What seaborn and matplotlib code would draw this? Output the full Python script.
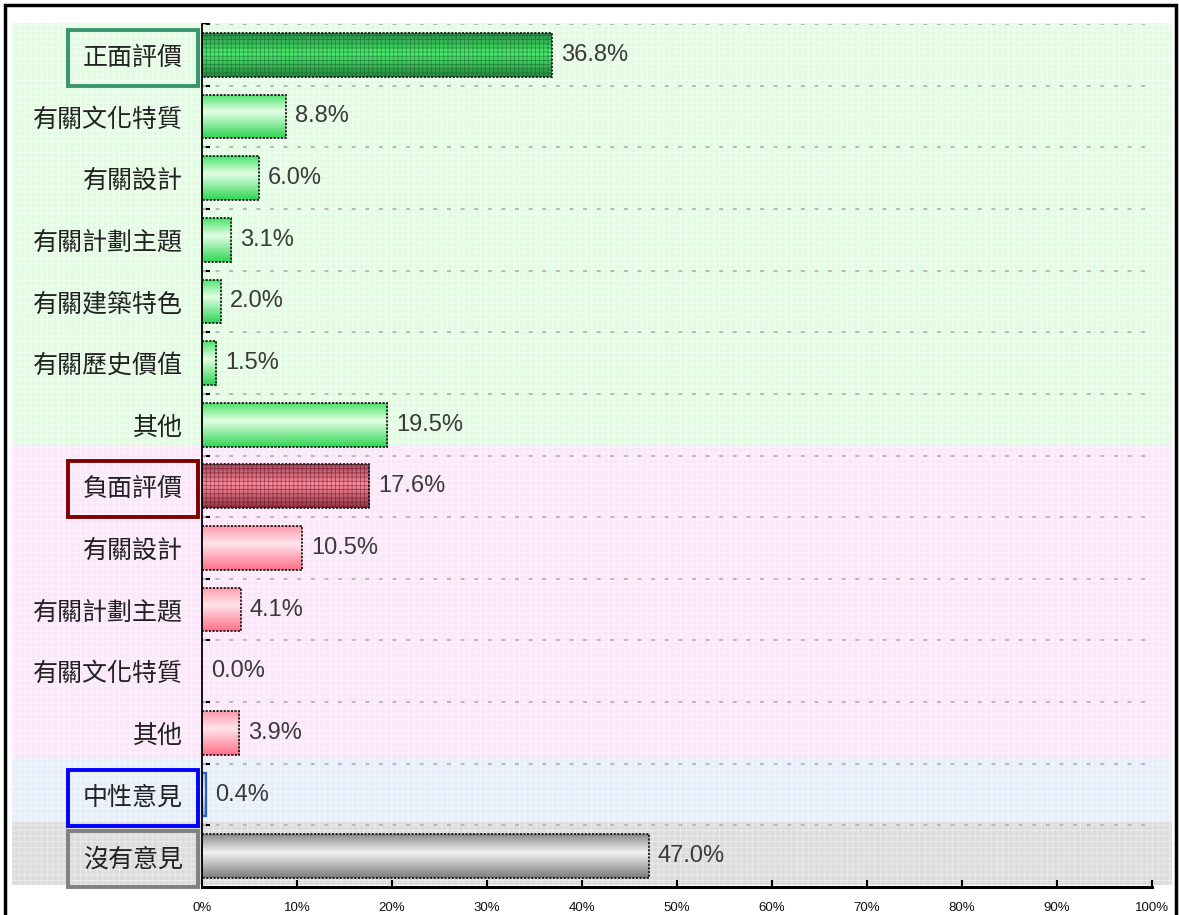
import numpy as np
import pandas as pd
import matplotlib
matplotlib.use("Agg")
import matplotlib.pyplot as plt
import matplotlib.transforms as mtransforms
from matplotlib.patches import Rectangle
from matplotlib.colors import to_rgb
import seaborn as sns

# ---------------- data ----------------
labels = ["正面評價", "有關文化特質", "有關設計", "有關計劃主題", "有關建築特色", "有關歷史價值", "其他",
          "負面評價", "有關設計", "有關計劃主題", "有關文化特質", "其他",
          "中性意見", "沒有意見"]
groups = ["pos", "pos", "pos", "pos", "pos", "pos", "pos",
          "neg", "neg", "neg", "neg", "neg",
          "neu", "none"]
headline = [True, False, False, False, False, False, False,
            True, False, False, False, False,
            True, True]
values = [36.8, 8.8, 6.0, 3.1, 2.0, 1.5, 19.5, 17.6, 10.5, 4.1, 0.0, 3.9, 0.4, 47.0]
xticks = [0, 10, 20, 30, 40, 50, 60, 70, 80, 90, 100]
xtick_labels = ["0%", "10%", "20%", "30%", "40%", "50%", "60%", "70%", "80%", "90%", "100%"]

# ---------------- style ----------------
sns.set_theme(style="white")
plt.rcParams["font.family"] = ["Noto Sans CJK TC", "DejaVu Sans"]
plt.rcParams["hatch.linewidth"] = 0.6

W, H = 1179, 915
fig = plt.figure(figsize=(W / 100, H / 100), dpi=100)
fig.patch.set_facecolor("white")
ax = fig.add_axes([202 / W, 1 - 887 / H, 950 / W, 863 / H])
ax.set_facecolor("none")

n = len(values)
df = pd.DataFrame({"key": [str(i) for i in range(n)], "label": labels, "value": values})

base_cols = {"pos": "#66ee88", "neg": "#ff99aa", "neu": "#bcd4ff", "none": "#bbbbbb"}
palette = {str(i): base_cols[g] for i, g in enumerate(groups)}

sns.barplot(data=df, x="value", y="key", hue="key", palette=palette, orient="h",
            width=0.71, legend=False, ax=ax, saturation=1)

# gradient stops (top -> bottom)
grad = {
    ("pos", False): [(0.0, "#4be26c"), (0.4, "#e4ffe4"), (1.0, "#2ed654")],
    ("pos", True): [(0.0, "#2a8a45"), (0.45, "#48f06c"), (1.0, "#22883e")],
    ("neg", False): [(0.0, "#ff9aaa"), (0.4, "#ffe4ec"), (1.0, "#ff7088")],
    ("neg", True): [(0.0, "#a84858"), (0.45, "#ff8e9e"), (1.0, "#963444")],
    ("neu", True): [(0.0, "#a8c4f0"), (0.45, "#eef4ff"), (1.0, "#8cb0e8")],
    ("none", True): [(0.0, "#8a8a8a"), (0.42, "#f2f2f2"), (1.0, "#7c7c7c")],
}
hatch_col = {"pos": "#1d5a2c", "neg": "#5a1020"}
edge_col = {"pos": "#1a1a1a", "neg": "#1a1a1a", "neu": "#2a5fd0", "none": "#1a1a1a"}


def gradient(stops, m=80):
    t = np.linspace(0, 1, m)
    pos = [s[0] for s in stops]
    cols = np.array([to_rgb(s[1]) for s in stops])
    arr = np.stack([np.interp(t, pos, cols[:, k]) for k in range(3)], axis=1)
    return np.repeat(arr[:, None, :], 2, axis=1)


for i, patch in enumerate(ax.patches[:n]):
    g = groups[i]
    x0, y0 = patch.get_x(), patch.get_y()
    w, h = patch.get_width(), patch.get_height()
    patch.set_facecolor("none")
    patch.set_edgecolor(edge_col[g])
    if g == "neu":
        patch.set_linewidth(1.6)
        patch.set_linestyle("-")
    else:
        patch.set_linewidth(1.3)
        patch.set_linestyle((0, (1.2, 0.8)))
    patch.set_zorder(4)
    if w <= 0:
        patch.set_visible(False)
        continue
    img = ax.imshow(gradient(grad[(g, headline[i])]), extent=(x0, x0 + w, y0 + h, y0),
                    origin="upper", aspect="auto", interpolation="bilinear", zorder=3)
    img.set_clip_path(patch)
    if headline[i] and g in hatch_col:
        ax.add_patch(Rectangle((x0, y0), w, h, facecolor="none", edgecolor=hatch_col[g],
                               lw=0, hatch="++++", alpha=0.55, zorder=3.5))

# value labels
for cont, v in zip(ax.containers, values):
    ax.bar_label(cont, labels=[f"{v:.1f}%"], padding=6.5, fontsize=17, color="#3a3a3a",
                 family=["Liberation Sans", "DejaVu Sans"])

# background bands (figure-wide in x, data rows in y)
trans = mtransforms.blended_transform_factory(fig.transFigure, ax.transData)
bands = [(-0.52, 6.33, "#e3fbe3", "#f3fff3"),
         (6.33, 11.39, "#fbe6fa", "#fff4fe"),
         (11.39, 12.45, "#e6eef9", "#f4f8ff"),
         (12.45, 13.47, "#dcdcdc", "#ececec")]
for y0, y1, fc, hc in bands:
    ax.add_patch(Rectangle((12 / W, y0), (1172 - 12) / W, y1 - y0, transform=trans,
                           facecolor=fc, edgecolor=hc, lw=0, hatch="+++", clip_on=False, zorder=0))

# dashed row separators
for b in np.arange(-0.5, n - 1, 1.0):
    ax.axhline(b, color="#b8b8b8", lw=1.4, ls=(0, (2, 5)), zorder=1)

ax.set_xlim(0, 100)
ax.set_ylim(n - 0.5, -0.5)

ax.set_xticks(xticks)
ax.set_xticklabels(xtick_labels, fontsize=9.5, color="#111111", family=["Liberation Sans", "DejaVu Sans"])
ax.set_yticks(range(n))
ax.set_yticklabels(labels, fontsize=18, color="#222222")
ax.set_yticks(np.arange(-0.5, n - 0.5, 1.0), minor=True)
ax.tick_params(axis="x", which="major", direction="in", length=5, width=1.5, color="black", pad=11,
               bottom=True)
ax.tick_params(axis="y", which="major", length=0, pad=14)
ax.tick_params(axis="y", which="minor", direction="in", length=6, width=1.5, color="black", left=True)
ax.set_xlabel("")
ax.set_ylabel("")

for s in ["top", "right"]:
    ax.spines[s].set_visible(False)
ax.spines["left"].set_color("black")
ax.spines["left"].set_linewidth(1.3)
ax.spines["bottom"].set_color("black")
ax.spines["bottom"].set_linewidth(2.2)
ax.spines["left"].set_zorder(6)
ax.spines["bottom"].set_zorder(6)

# boxed group headers
box_cols = {0: "#3a9470", 7: "#800000", 12: "#0000ff", 13: "#808080"}
tls = ax.get_yticklabels()
for idx, c in box_cols.items():
    tls[idx].set_bbox(dict(boxstyle="square,pad=0.6", facecolor="none", edgecolor=c, linewidth=2.8))

# outer frame
fig.patches.append(Rectangle((5 / W, -0.02), (1176 - 5) / W, 1.02 - 5 / H, transform=fig.transFigure,
                             fill=False, edgecolor="black", lw=2.5))

fig.savefig("out.png", dpi=100)
